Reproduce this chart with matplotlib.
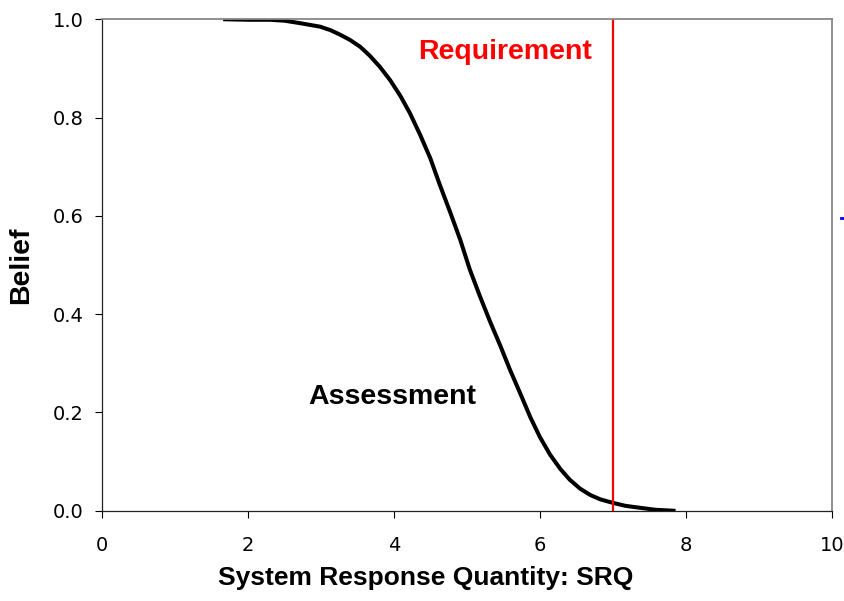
import numpy as np
import matplotlib.pyplot as plt
from matplotlib.lines import Line2D

# Belief curve (complementary cumulative) for the assessed SRQ
srq = [1.69, 2.03, 2.31, 2.51, 2.72, 2.99, 3.13, 3.26, 3.40, 3.54, 3.67,
       3.81, 3.95, 4.09, 4.22, 4.36, 4.50, 4.63, 4.77, 4.91, 5.04, 5.18,
       5.32, 5.46, 5.59, 5.73, 5.87, 6.00, 6.14, 6.28, 6.41, 6.55, 6.69,
       6.83, 7.00, 7.17, 7.37, 7.58, 7.83]
belief = [1.000, 0.999, 0.999, 0.997, 0.992, 0.985, 0.978, 0.969, 0.958,
          0.944, 0.926, 0.903, 0.876, 0.844, 0.809, 0.765, 0.717, 0.663,
          0.608, 0.551, 0.491, 0.436, 0.384, 0.335, 0.287, 0.239, 0.190,
          0.150, 0.114, 0.085, 0.063, 0.045, 0.032, 0.023, 0.016, 0.010,
          0.006, 0.002, 0.000]
requirement = 7.0

xticks = [0, 2, 4, 6, 8, 10]
yticks = [0.0, 0.2, 0.4, 0.6, 0.8, 1.0]

fig = plt.figure(figsize=(8.45, 6.01), dpi=100)
ax = fig.add_axes([0.1204, 0.1502, 0.8642, 0.8177])

ax.plot(srq, belief, color='black', lw=2.9, solid_joinstyle='round')
ax.axvline(requirement, color='#ff0000', lw=1.6)

ax.set_xlim(0, 10)
ax.set_ylim(0, 1)
ax.set_xticks(xticks)
ax.set_xticklabels([str(t) for t in xticks])
ax.set_yticks(yticks)
ax.set_yticklabels([f'{t:.1f}' for t in yticks])
ax.tick_params(direction='out', length=5, width=0.8, colors='black',
               labelsize=14)
ax.tick_params(axis='x', pad=13)
ax.tick_params(axis='y', pad=8)

for side in ('left', 'bottom'):
    ax.spines[side].set_color('#222222')
    ax.spines[side].set_linewidth(0.9)
for side in ('top', 'right'):
    ax.spines[side].set_color('#888888')
    ax.spines[side].set_linewidth(1.3)

bold = dict(family='Liberation Sans', fontweight='bold')
ax.set_xlabel('System Response Quantity: SRQ', fontsize=19, **bold)
ax.xaxis.set_label_coords(0.443, -0.112)
ax.set_ylabel('Belief', fontsize=20.5, **bold)
ax.yaxis.set_label_coords(-0.093, 0.5)

ax.text(4.33, 0.933, 'Requirement', color='#ff0000', va='center',
        fontsize=20.5, **bold)
ax.text(2.83, 0.231, 'Assessment', color='black', va='center',
        fontsize=20.5, **bold)

# clipped arrow tip at the right edge
fig.add_artist(Line2D([0.9955, 1.0], [0.6373, 0.6373], color='#0000ff',
                      lw=2, transform=fig.transFigure))

fig.savefig('out.png', dpi=100)
